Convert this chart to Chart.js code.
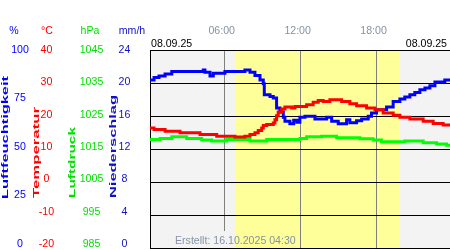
<!DOCTYPE html>
<html>
<head>
<meta charset="utf-8">
<script src="https://cdn.jsdelivr.net/npm/chart.js@4.4.1/dist/chart.umd.min.js"></script>
<style>
  html, body { margin: 0; padding: 0; background: #fff; overflow: hidden; }
</style>
</head>
<body>
<canvas id="wetter" width="450" height="250"></canvas>
<script>
// Stufenbeginn (Stunde) und Messwert je Stufe
const humHours = [0.1, 0.42, 0.81, 1.29, 1.82, 4.31, 4.44, 4.84, 5.10, 6.02, 7.60, 8.0, 8.39, 8.79,
  9.05, 9.13, 9.58, 9.84, 10.1, 10.37, 10.63, 10.76, 11.15, 11.45, 11.7, 11.94, 12.34, 13.13, 14.05,
  14.45, 14.97, 15.63, 15.89, 16.42, 16.82, 17.34, 17.6, 18.0, 18.79, 19.31, 19.84, 20.23, 20.63,
  21.02, 21.42, 21.82, 22.21, 22.61, 23.39, 23.8];
const humValues = [84.9, 86.1, 86.9, 87.9, 89.1, 89.9, 88.8, 86.9, 88.3, 89.1, 89.9, 88.8, 87.1, 84.9,
  82.9, 77.4, 76.5, 75.7, 70.7, 68.7, 66.0, 64.0, 62.8, 64.5, 63.5, 66.0, 66.5, 65.2, 66.0,
  64.0, 62.8, 64.8, 63.2, 64.3, 65.2, 66.5, 68.2, 69.8, 71.2, 74.0, 75.2, 76.2, 77.4,
  78.5, 79.9, 80.8, 81.9, 83.9, 84.9, 84.9];

const tempHours = [0.1, 0.42, 1.29, 2.47, 4.05, 5.37, 6.81, 7.6, 8.0, 8.39, 8.65, 8.92, 9.05, 9.32,
  9.84, 9.97, 10.1, 10.23, 10.5, 10.76, 11.29, 11.55, 12.47, 12.99, 13.39, 13.78, 14.31, 15.24,
  15.89, 16.42, 17.21, 17.87, 18.52, 19.31, 19.84, 20.63, 21.68, 22.47, 23.26, 23.8];
const tempValues = [16.4, 15.9, 15.4, 14.9, 14.4, 13.9, 13.6, 13.9, 14.4, 14.9, 15.6, 16.4, 17.1, 17.4,
  17.9, 18.9, 20.1, 21.2, 22.1, 22.7, 22.4, 22.9, 23.4, 24.2, 24.7, 24.4, 24.9, 24.4,
  23.7, 23.1, 22.4, 21.9, 20.9, 20.2, 19.6, 19.1, 18.4, 17.7, 17.3, 17.3];

const pressHours = [0.1, 0.89, 1.82, 3.0, 4.18, 4.97, 6.16, 8.0, 9.32, 11.94, 12.47, 13.66, 14.84,
  16.68, 17.73, 18.39, 20.23, 21.68, 22.74, 23.53, 23.8];
const pressValues = [1017.9, 1018.2, 1018.7, 1018.2, 1017.7, 1017.4, 1017.9, 1017.4, 1017.9, 1018.2,
  1018.7, 1018.9, 1018.4, 1018.1, 1017.7, 1017.2, 1017.4, 1016.9, 1016.5, 1016.1, 1016.1];

// kein Niederschlag
const rainHours = [];
const rainValues = [];

const timeTicks = [6, 12, 18];
const timeLabels = ['06:00', '12:00', '18:00'];
const humTicks = [100, 75, 50, 25, 0];
const tempTicks = [40, 30, 20, 10, 0, -10, -20];
const pressTicks = [1045, 1035, 1025, 1015, 1005, 995, 985];
const rainTicks = [24, 20, 16, 12, 8, 4, 0];
const daylight = [6.8, 19.8];
const dateStart = '08.09.25';
const dateEnd = '08.09.25';
const created = 'Erstellt: 16.10.2025 04:30';

const FONT = '10.6px "Liberation Sans", Arial, sans-serif';
const BG = '#f3f3f3';

function pairs(xs, ys) {
  return xs.map((x, i) => ({ x: x, y: ys[i] }));
}

const backdrop = {
  id: 'backdrop',
  beforeDraw(chart) {
    const { ctx, chartArea: a, scales: { x } } = chart;
    ctx.save();
    ctx.fillStyle = BG;
    ctx.fillRect(a.left, a.top, a.right - a.left, a.bottom - a.top);
    ctx.fillStyle = '#ffff99';
    const x0 = x.getPixelForValue(daylight[0]);
    const x1 = x.getPixelForValue(daylight[1]);
    ctx.fillRect(x0, a.top, x1 - x0, a.bottom - a.top);
    ctx.restore();
  }
};

function vtext(ctx, text, baseX, bottomY, length, color) {
  ctx.save();
  ctx.font = 'bold 9px "Liberation Sans", Arial, sans-serif';
  const w = ctx.measureText(text).width;
  ctx.translate(baseX, bottomY);
  ctx.rotate(-Math.PI / 2);
  ctx.scale(length / w, 1);
  ctx.textAlign = 'left';
  ctx.textBaseline = 'alphabetic';
  ctx.fillStyle = color;
  ctx.fillText(text, 0, 0);
  ctx.restore();
}

const labels = {
  id: 'labels',
  afterDraw(chart) {
    const { ctx, chartArea: a, scales } = chart;
    ctx.save();
    ctx.font = FONT;
    ctx.textBaseline = 'middle';
    ctx.textAlign = 'center';

    // Kopfzeile der Achsen
    ctx.fillStyle = '#0000ff'; ctx.fillText('%', 14, 31);
    ctx.fillStyle = '#ff0000'; ctx.fillText('°C', 47, 31);
    ctx.fillStyle = '#00e000'; ctx.fillText('hPa', 90, 31);
    ctx.fillStyle = '#1010c8'; ctx.fillText('mm/h', 132, 31);

    const ly = (scale, v) => a.top + (scale.getPixelForValue(v) - a.top) * 0.98;
    ctx.fillStyle = '#0000ff';
    humTicks.forEach(v => ctx.fillText(String(v), 20, ly(scales.yHum, v)));
    ctx.fillStyle = '#ff0000';
    tempTicks.forEach(v => ctx.fillText(String(v), 46.5, ly(scales.y, v)));
    ctx.fillStyle = '#00e000';
    pressTicks.forEach(v => ctx.fillText(String(v), 91.5, ly(scales.yPress, v)));
    ctx.fillStyle = '#1010c8';
    rainTicks.forEach(v => ctx.fillText(String(v), 124.5, ly(scales.yRain, v)));

    // Uhrzeiten oben
    ctx.fillStyle = '#8592a6';
    timeTicks.forEach((h, i) => ctx.fillText(timeLabels[i], scales.x.getPixelForValue(h) - 3, 31));

    ctx.fillStyle = '#000';
    ctx.textAlign = 'left';
    ctx.fillText(dateStart, a.left + 1, 44);
    ctx.textAlign = 'right';
    ctx.fillText(dateEnd, 447, 44);

    // Hinweis unten, mit Aussparung der 06:00-Linie
    const gx = scales.x.getPixelForValue(timeTicks[0]);
    ctx.fillStyle = BG;
    ctx.fillRect(gx - 2, 231, 4, a.bottom - 231);
    ctx.fillStyle = '#8592a6';
    ctx.textAlign = 'left';
    ctx.fillText(created, 175, 241);
    ctx.restore();

    vtext(ctx, 'Luftfeuchtigkeit', 7.5, 199, 123, '#0000ff');
    vtext(ctx, 'Temperatur', 38.5, 198, 91, '#ff0000');
    vtext(ctx, 'Luftdruck', 75, 198, 71, '#00e000');
    vtext(ctx, 'Niederschlag', 115.5, 198, 103, '#1010c8');
  }
};

const ticksFrom = arr => scale => { scale.ticks = arr.map(v => ({ value: v })); };

new Chart(document.getElementById('wetter'), {
  type: 'line',
  data: {
    datasets: [
      { label: 'Temperatur', data: pairs(tempHours, tempValues), yAxisID: 'y', borderColor: '#ff0000' },
      { label: 'Luftfeuchtigkeit', data: pairs(humHours, humValues), yAxisID: 'yHum', borderColor: '#0000ff' },
      { label: 'Luftdruck', data: pairs(pressHours, pressValues), yAxisID: 'yPress', borderColor: '#00ff00' },
      { label: 'Niederschlag', data: pairs(rainHours, rainValues), yAxisID: 'yRain', borderColor: '#1010c8' }
    ]
  },
  options: {
    responsive: false,
    animation: false,
    devicePixelRatio: 1,
    layout: { padding: { left: 150, top: 50, right: 0, bottom: 2 } },
    plugins: { legend: { display: false }, tooltip: { enabled: false } },
    elements: {
      point: { radius: 0, hoverRadius: 0 },
      line: { borderWidth: 3, tension: 0, stepped: 'before', fill: false }
    },
    scales: {
      x: {
        type: 'linear', min: 0.1, max: 23.8,
        afterBuildTicks: ticksFrom(timeTicks),
        ticks: { display: false },
        grid: { color: '#808080', drawTicks: false },
        border: { display: false }
      },
      y: {
        min: -20, max: 40,
        afterBuildTicks: ticksFrom(tempTicks),
        ticks: { display: false },
        grid: { color: '#000', drawTicks: false },
        border: { display: true, color: '#000' }
      },
      yHum: { display: false, min: 0, max: 100 },
      yPress: { display: false, min: 985, max: 1045 },
      yRain: { display: false, min: 0, max: 24 }
    }
  },
  plugins: [backdrop, labels]
});
</script>
</body>
</html>
